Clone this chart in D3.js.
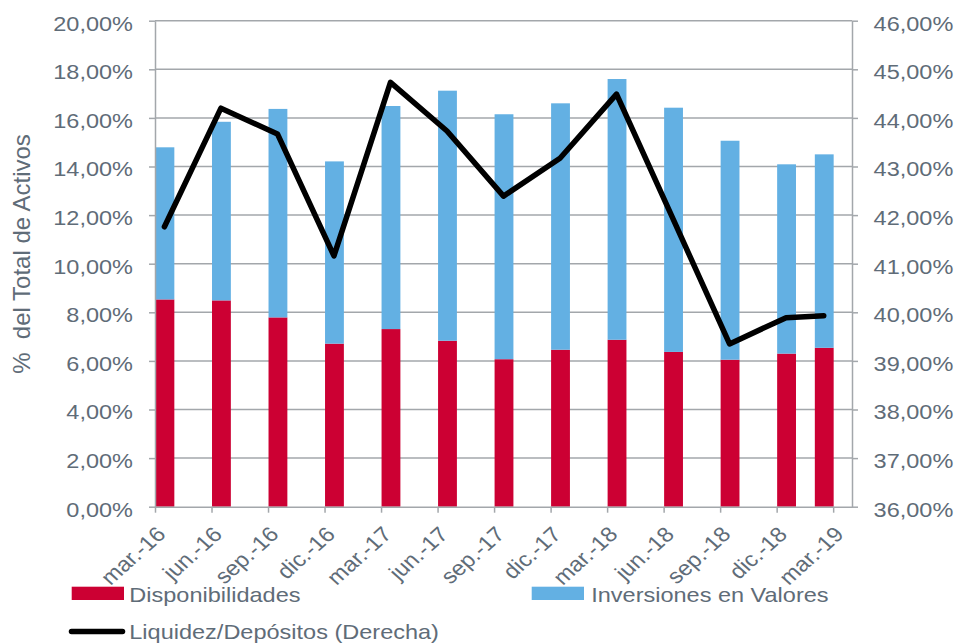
<!DOCTYPE html>
<html>
<head>
<meta charset="utf-8">
<script src="https://cdn.jsdelivr.net/npm/d3@7"></script>
<style>
	html, body { margin: 0; padding: 0; background: #fff; }
	text { font-family: 'Liberation Sans', Arial, sans-serif; }
</style>
</head>
<body>
<div id="chart"></div>
<script>
const COLOR_DISP = '#cc0033';
const COLOR_INV = '#63b0e3';
const COLOR_TEXT = '#5f6c78';
const COLOR_GRID = '#a3a7ab';
const SX = 1.12; // the source text is a bit wider than Arial

const categories = ['mar.-16', 'jun.-16', 'sep.-16', 'dic.-16', 'mar.-17', 'jun.-17', 'sep.-17',
	'dic.-17', 'mar.-18', 'jun.-18', 'sep.-18', 'dic.-18', 'mar.-19'];
// months since mar-16
const months = [0, 3, 6, 9, 12, 15, 18, 21, 24, 27, 30, 33, 36];
const disponibilidades = [8.53, 8.49, 7.79, 6.71, 7.31, 6.83, 6.07, 6.46, 6.87, 6.37, 6.05, 6.30, 6.54];
const inversiones = [6.26, 7.35, 8.58, 7.50, 9.18, 10.29, 10.08, 10.14, 10.73, 10.05, 9.01, 7.79, 7.96];
const liquidez = [41.76, 44.20, 43.67, 41.16, 44.73, 43.73, 42.39, 43.17, 44.49, 41.92, 39.35, 39.89, 39.93];
const leftTicks = [0, 2, 4, 6, 8, 10, 12, 14, 16, 18, 20];
const rightTicks = [36, 37, 38, 39, 40, 41, 42, 43, 44, 45, 46];

const locale = d3.formatLocale({ decimal: ',', thousands: '.', grouping: [3], currency: ['', ''] });
const fmtPct = (v) => locale.format('.2f')(v) + '%';

const W = 957;
const H = 644;

const svg = d3.select('#chart').append('svg').attr('width', W).attr('height', H);

const x = d3.scaleLinear().domain([0, 37]).range([155, 852]);
const yL = d3.scaleLinear().domain([0, 20]).range([506.7, 20.7]);
const yR = d3.scaleLinear().domain([36, 46]).range([506.7, 20.7]);

// last bar sits to the left of its tick, as in the source
const barStart = (i) => (i === categories.length - 1 ? months[i] - 1 : months[i]);
const barMid = (i) => (x(barStart(i)) + x(barStart(i) + 1)) / 2;

// gridlines
svg.append('g')
	.selectAll('line')
	.data(leftTicks.slice(1))
	.enter()
	.append('line')
	.attr('x1', x(0))
	.attr('x2', x(37))
	.attr('y1', (d) => yL(d))
	.attr('y2', (d) => yL(d))
	.attr('stroke', COLOR_GRID)
	.attr('stroke-width', 1.5);

// stacked bars
const rows = categories.map((c, i) => ({ i, c, disp: disponibilidades[i], inv: inversiones[i] }));
const bars = svg.append('g');
bars.selectAll('.disp')
	.data(rows)
	.enter()
	.append('rect')
	.attr('class', 'disp')
	.attr('x', (d) => x(barStart(d.i)) + 0.5)
	.attr('width', (d) => x(barStart(d.i) + 1) - x(barStart(d.i)))
	.attr('y', (d) => yL(d.disp))
	.attr('height', (d) => yL(0) - yL(d.disp))
	.attr('fill', COLOR_DISP);
bars.selectAll('.inv')
	.data(rows)
	.enter()
	.append('rect')
	.attr('class', 'inv')
	.attr('x', (d) => x(barStart(d.i)) + 0.5)
	.attr('width', (d) => x(barStart(d.i) + 1) - x(barStart(d.i)))
	.attr('y', (d) => yL(d.disp + d.inv))
	.attr('height', (d) => yL(d.disp) - yL(d.disp + d.inv))
	.attr('fill', COLOR_INV);

const styleAxis = (g) => {
	g.selectAll('path, line').attr('stroke', COLOR_GRID).attr('stroke-width', 1.5);
	g.selectAll('text')
		.attr('fill', COLOR_TEXT)
		.style('font-size', '21px');
};

// left axis
svg.append('g')
	.attr('transform', 'translate(' + x(0) + ',0)')
	.call(d3.axisLeft(yL).tickValues(leftTicks).tickSize(6).tickSizeOuter(0).tickFormat(fmtPct))
	.call(styleAxis)
	.selectAll('text')
	.attr('x', 0)
	.attr('dy', null)
	.attr('y', 9.3)
	.attr('transform', 'translate(-22,0) scale(' + SX + ',1)');

// right axis
svg.append('g')
	.attr('transform', 'translate(' + x(37) + ',0)')
	.call(d3.axisRight(yR).tickValues(rightTicks).tickSize(6).tickSizeOuter(0).tickFormat(fmtPct))
	.call(styleAxis)
	.selectAll('text')
	.attr('x', 0)
	.attr('dy', null)
	.attr('y', 9.3)
	.attr('transform', 'translate(21.6,0) scale(' + SX + ',1)');

// bottom axis
svg.append('g')
	.attr('transform', 'translate(0,' + yL(0) + ')')
	.call(d3.axisBottom(x).tickValues(months).tickSize(6).tickSizeOuter(0).tickFormat(''))
	.call(styleAxis);

svg.append('g')
	.selectAll('text')
	.data(categories)
	.enter()
	.append('text')
	.attr('transform', (d, i) => 'translate(' + x(months[i]) + ',525) scale(' + SX + ',1) rotate(-45)')
	.attr('text-anchor', 'end')
	.attr('dy', 15)
	.attr('fill', COLOR_TEXT)
	.style('font-size', '21px')
	.text((d) => d);

// liquidez line
svg.append('path')
	.datum(liquidez)
	.attr('fill', 'none')
	.attr('stroke', '#000')
	.attr('stroke-width', 5.5)
	.attr('stroke-linejoin', 'round')
	.attr('stroke-linecap', 'round')
	.attr('d', d3.line().x((d, i) => barMid(i)).y((d) => yR(d)));

// y title
svg.append('text')
	.attr('transform', 'translate(30,254) rotate(-90)')
	.attr('text-anchor', 'middle')
	.attr('fill', COLOR_TEXT)
	.style('font-size', '24px')
	.style('white-space', 'pre')
	.text('%  del Total de Activos');

// legend
const legend = svg.append('g');
legend.append('rect').attr('x', 71.7).attr('y', 586.7).attr('width', 52.3).attr('height', 13.3).attr('fill', COLOR_DISP);
legend.append('rect').attr('x', 531.7).attr('y', 586.7).attr('width', 52.3).attr('height', 13.3).attr('fill', COLOR_INV);
legend.append('line')
	.attr('x1', 71.5).attr('x2', 122.5).attr('y1', 631.5).attr('y2', 631.5)
	.attr('stroke', '#000').attr('stroke-width', 5.5).attr('stroke-linecap', 'round');

const legendItems = [
	{ label: 'Disponibilidades', tx: 129.3, ty: 601.7 },
	{ label: 'Inversiones en Valores', tx: 591.2, ty: 601.7 },
	{ label: 'Liquidez/Depósitos (Derecha)', tx: 129.3, ty: 639 }
];
legend.selectAll('text')
	.data(legendItems)
	.enter()
	.append('text')
	.attr('transform', (d) => 'translate(' + d.tx + ',' + d.ty + ') scale(' + SX + ',1)')
	.attr('fill', COLOR_TEXT)
	.style('font-size', '21px')
	.text((d) => d.label);
</script>
</body>
</html>
